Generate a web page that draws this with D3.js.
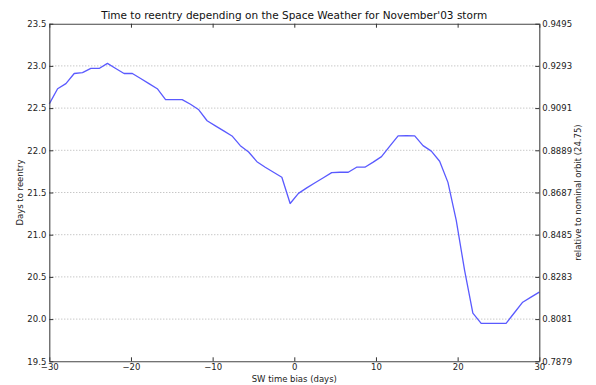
<!DOCTYPE html>
<html>
<head>
<meta charset="utf-8">
<script src="https://cdn.jsdelivr.net/npm/d3@7"></script>
<style>
  html, body { margin: 0; padding: 0; background: #fff; }
  svg { display: block; font-family: "DejaVu Sans", sans-serif; }
</style>
</head>
<body>
<svg id="chart" width="596" height="385"></svg>
<script>
// ---- data ----
const nPoints = 60; // samples spanning -30..30 days
const xTicks = [-30, -20, -10, 0, 10, 20, 30];
const yTicks = [19.5, 20.0, 20.5, 21.0, 21.5, 22.0, 22.5, 23.0, 23.5];
const rightTickLabels = ["0.7879", "0.8081", "0.8283", "0.8485", "0.8687", "0.8889", "0.9091", "0.9293", "0.9495"];
const daysToReentry = [
  22.55, 22.73, 22.79, 22.91, 22.92, 22.97, 22.97, 23.03, 22.97, 22.91,
  22.91, 22.85, 22.79, 22.73, 22.60, 22.60, 22.60, 22.545, 22.48, 22.35,
  22.29, 22.23, 22.17, 22.055, 21.98, 21.865, 21.80, 21.74, 21.68, 21.37,
  21.49, 21.555, 21.615, 21.675, 21.735, 21.74, 21.74, 21.80, 21.80, 21.86,
  21.925, 22.05, 22.17, 22.175, 22.17, 22.055, 21.99, 21.87, 21.62, 21.17,
  20.58, 20.07, 19.95, 19.95, 19.95, 19.95, 20.075, 20.20, 20.26, 20.32
];
const days = d3.range(nPoints).map(i => -30 + i * 60 / (nPoints - 1));
const nominal = 24.75;

// ---- layout ----
const svg = d3.select("#chart");
const L = 49.3, R = 539.3, T = 23.7, B = 361.3;

const x = d3.scaleLinear().domain([-30, 30]).range([L, R]);
const y = d3.scaleLinear().domain([19.5, 23.5]).range([B, T]);

const fmtMinus = d => (d < 0 ? "\u2212" + Math.abs(d) : String(d));

// grid
svg.append("g")
  .selectAll("line")
  .data(yTicks.slice(1, -1))
  .join("line")
  .attr("x1", L).attr("x2", R)
  .attr("y1", d => y(d)).attr("y2", d => y(d))
  .attr("stroke", "#b0b0b0")
  .attr("stroke-width", 1)
  .attr("stroke-dasharray", "1,2");

// line
const line = d3.line().x((d, i) => x(days[i])).y(d => y(d));
svg.append("path")
  .datum(daysToReentry)
  .attr("fill", "none")
  .attr("stroke", "#5a5aff")
  .attr("stroke-width", 1.3)
  .attr("stroke-linejoin", "round")
  .attr("d", line);

// axes
const tickCol = "#333";
const fontSize = 8.5;

const xAxisB = d3.axisBottom(x).tickValues(xTicks).tickFormat(fmtMinus).tickSizeInner(-4).tickSizeOuter(0).tickPadding(4);
const gxb = svg.append("g").attr("transform", `translate(0,${B})`).call(xAxisB);
const xAxisT = d3.axisTop(x).tickValues(xTicks).tickFormat("").tickSizeInner(-4).tickSizeOuter(0);
const gxt = svg.append("g").attr("transform", `translate(0,${T})`).call(xAxisT);

const yAxisL = d3.axisLeft(y).tickValues(yTicks).tickFormat(d3.format(".1f")).tickSizeInner(-4).tickSizeOuter(0).tickPadding(3);
const gyl = svg.append("g").attr("transform", `translate(${L},0)`).call(yAxisL);

const yR = d3.scaleLinear().domain([19.5 / nominal, 23.5 / nominal]).range([B, T]);
const yAxisR = d3.axisRight(yR).tickValues(yTicks.map(v => v / nominal)).tickFormat((d, i) => rightTickLabels[i]).tickSizeInner(-4).tickSizeOuter(0).tickPadding(3);
const gyr = svg.append("g").attr("transform", `translate(${R},0)`).call(yAxisR);

[gxb, gxt, gyl, gyr].forEach(g => {
  g.select(".domain").attr("stroke", "#444").attr("stroke-width", 1.1);
  g.selectAll(".tick line").attr("stroke", tickCol);
  g.selectAll(".tick text").attr("fill", "#222").style("font-size", fontSize + "px").style("font-family", "DejaVu Sans");
});
gyl.selectAll(".tick text").attr("dy", "0.32em");
gyr.selectAll(".tick text").attr("dy", "0.32em");
gxb.selectAll(".tick text").attr("dy", "0.6em");

// titles
svg.append("text")
  .attr("x", (L + R) / 2).attr("y", T - 5)
  .attr("text-anchor", "middle")
  .style("font-size", "10.5px").attr("fill", "#111")
  .text("Time to reentry depending on the Space Weather for November'03 storm");

svg.append("text")
  .attr("x", (L + R) / 2).attr("y", 382)
  .attr("text-anchor", "middle")
  .style("font-size", "8.5px").attr("fill", "#222")
  .text("SW time bias (days)");

svg.append("text")
  .attr("transform", `translate(23,${(T + B) / 2}) rotate(-90)`)
  .attr("text-anchor", "middle")
  .style("font-size", "8.5px").attr("fill", "#222")
  .text("Days to reentry");

svg.append("text")
  .attr("transform", `translate(581,${(T + B) / 2}) rotate(-90)`)
  .attr("text-anchor", "middle")
  .style("font-size", "8.5px").attr("fill", "#222")
  .text("relative to nominal orbit (24.75)");
</script>
</body>
</html>
